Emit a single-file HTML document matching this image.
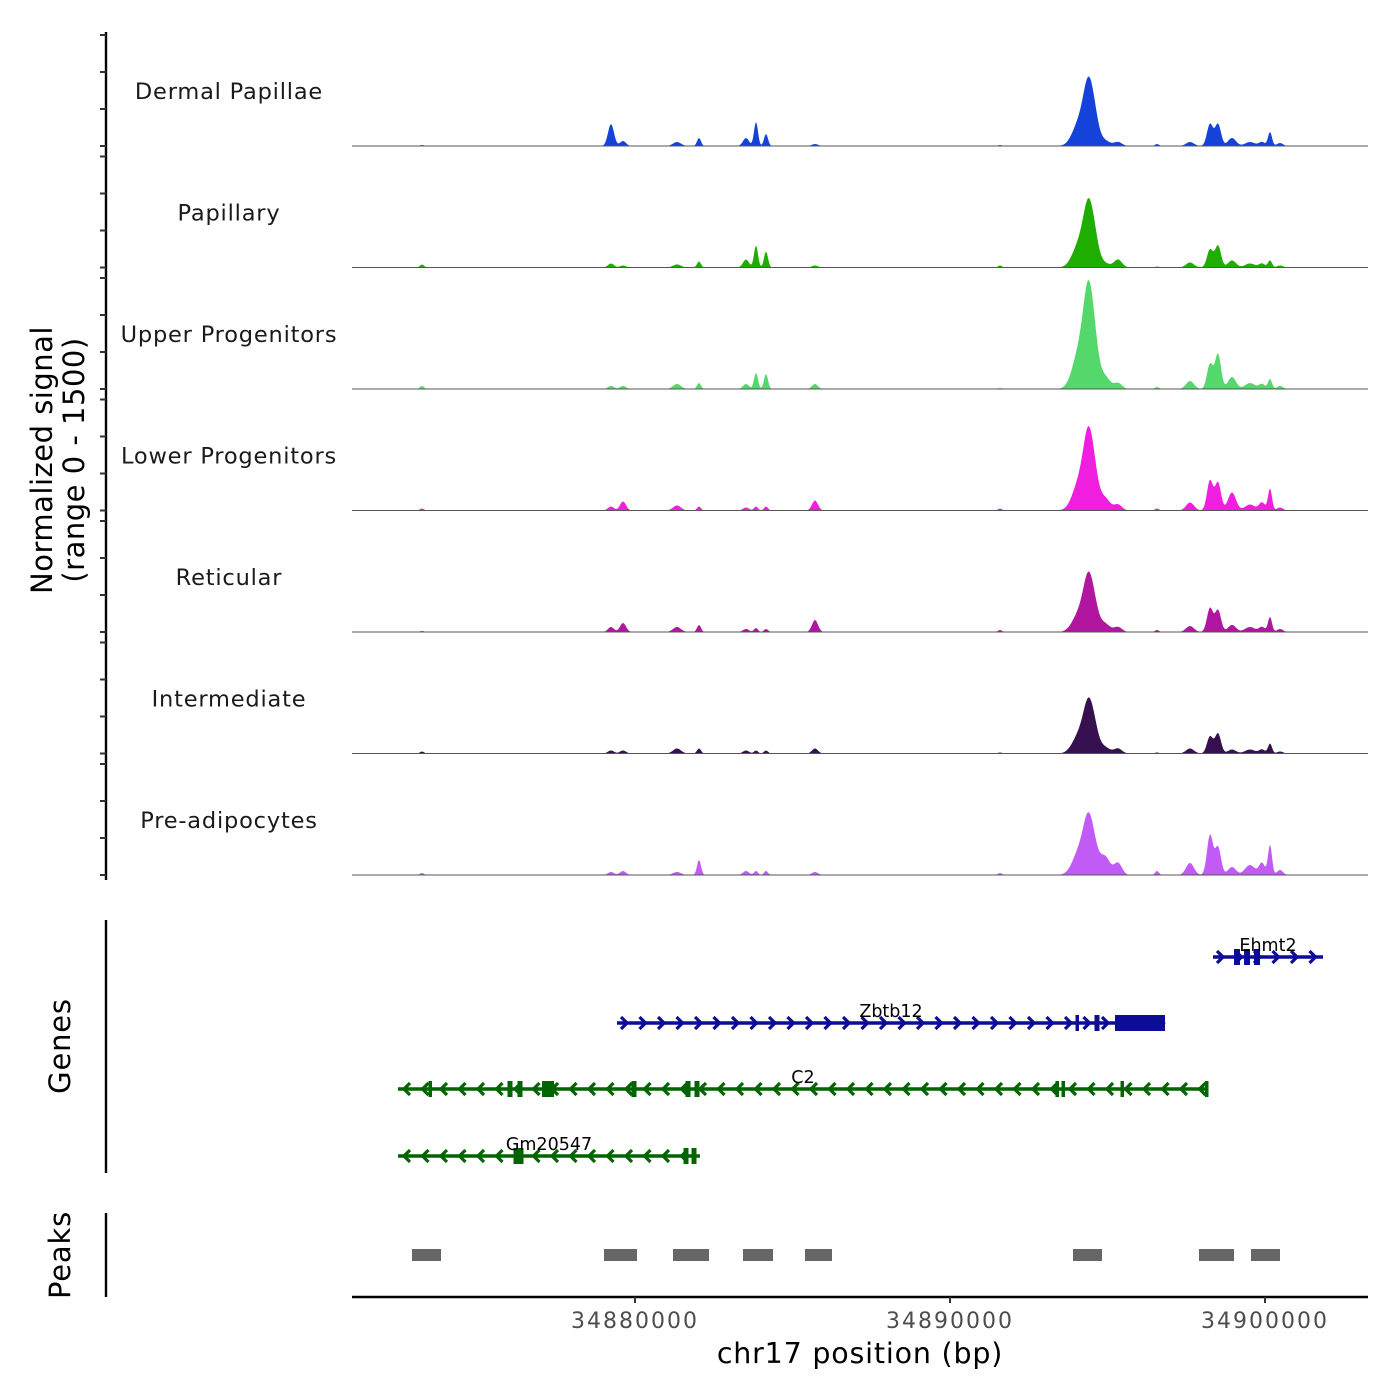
<!DOCTYPE html>
<html><head><meta charset="utf-8"><style>
html,body{margin:0;padding:0;background:#fff}
svg{display:block;font-family:"DejaVu Sans","Liberation Sans",sans-serif}
</style></head><body>
<svg id="chart" width="1400" height="1400" viewBox="0 0 1400 1400"></svg>
<script>
// ---- data ----
const BASE = 34880000;
const trackNames = ["Dermal Papillae","Papillary","Upper Progenitors","Lower Progenitors","Reticular","Intermediate","Pre-adipocytes"];
const trackColors = ["#1542d9","#1fad00","#55d86b","#f01fe0","#b0169f","#37104f","#c25af5"];
const peakOffsets = [-6762,-762,-381,1333,2032,3524,3841,4159,5714,11587,14127,14381,14571,14921,15333,16571,17619,18254,18508,18952,19524,19905,20159,20476];
const peakSigma   = [63,95,95,127,63,95,63,63,95,63,220,150,150,159,127,63,127,95,95,127,159,95,63,95];
const hDermal  = [14,297,68,54,108,108,324,162,27,14,338,600,360,68,54,27,54,297,297,108,54,54,189,41];
const hPapill  = [41,54,27,41,81,108,297,216,27,27,338,600,360,54,108,14,68,243,297,95,54,54,95,27];
const hUpper   = [41,41,41,68,81,68,216,203,68,14,540,950,540,162,81,27,108,338,473,162,81,68,135,41];
const hLower   = [27,54,122,68,54,41,54,54,135,27,405,740,420,162,81,27,108,405,378,243,81,108,297,41];
const hRetic   = [14,68,122,68,95,41,54,41,162,27,270,540,300,108,68,27,81,324,297,95,68,68,203,41];
const hInter   = [27,41,41,68,68,41,41,41,68,14,270,480,300,81,68,14,68,230,270,54,54,54,135,27];
const hPread   = [27,41,54,41,203,54,54,54,41,27,338,540,300,243,162,54,162,540,378,108,135,162,405,68];
const trackHeights = [hDermal,hPapill,hUpper,hLower,hRetic,hInter,hPread];
const yTicks = [0,500,1000,1500];
const xTickValues = [34880000,34890000,34900000];
const xTickLabels = ["34880000","34890000","34900000"];
// genes
const geneNames  = ["Ehmt2","Zbtb12","C2","Gm20547"];
const geneStart  = [18349,-571,-7524,-7524];
const geneEnd    = [21841,16825,18190,2063];
const geneStrand = [1,1,-1,-1];
const geneExons  = [
  [[19016,19206],[19334,19524],[19651,19841]],
  [[13984,14079],[14587,14746],[15238,16825]],
  [[-6556,-6460],[-4048,-3889],[-3730,-3571],[-2952,-2571],[-111,48],[1603,1762],[1889,2048],[13349,13444],[13540,13635],[15413,15508],[18095,18190]],
  [[-3857,-3698],[-3698,-3540],[1540,1698],[1794,1952]]
];
const peakStart = [-7079,-984,1206,3429,5397,13905,17905,19556];
const peakEnd   = [-6159,63,2349,4381,6254,14825,19016,20476];

// ---- scales ----
const X0=352,X1=1368;
const bpPerPx = 10000/315;
const xs = off => 635 + off/bpPerPx;
const xsAbs = bp => xs(bp-BASE);
const firstBase=146, trackStep=121.5, trackH=111;
const svg=document.getElementById('chart');
const NS='http://www.w3.org/2000/svg';
function mk(tag,attrs,parent){const e=document.createElementNS(NS,tag);for(const k in attrs)e.setAttribute(k,attrs[k]);(parent||svg).appendChild(e);return e;}

const ax = mk('line',{x1:106,y1:firstBase-trackH-3,x2:106,y2:firstBase+6*trackStep+5,stroke:'#000','stroke-width':2.4});



trackNames.forEach((name,i)=>{
  const base = firstBase + i*trackStep;
  const ys = v => base - v/1500*trackH;
  const g = mk('g',{});
  
  
  yTicks.forEach(t=>{
    const tk=mk('line',{x1:100,x2:106,y1:ys(t),y2:ys(t),stroke:'#333','stroke-width':2},g);
    
    
  });
  const lbl=mk('text',{x:229,y:base-47,'text-anchor':'middle','font-size':22.5,fill:'#1a1a1a','letter-spacing':0.8},g);
  lbl.textContent=name;
  
  
  const hs=trackHeights[i];
  let d='M'+X0+','+base;
  for(let px=X0;px<=X1;px+=1){
    const off=(px-635)*bpPerPx;
    let v=0;
    for(let k=0;k<peakOffsets.length;k++){const z=(off-peakOffsets[k])/peakSigma[k];if(Math.abs(z)<5)v+=hs[k]*Math.exp(-0.5*z*z);}
    d+=' L'+px+','+ys(Math.min(v,1500)).toFixed(2);
  }
  d+=' L'+X1+','+base+' Z';
  const area=mk('path',{d:d,fill:trackColors[i]},g);
  
  
  const bl=mk('line',{x1:X0,x2:X1,y1:base,y2:base,stroke:'#555','stroke-width':1},g);
  
  
});

const yt=mk('text',{transform:'translate(52,460) rotate(-90)','text-anchor':'middle','font-size':29,fill:'#000','letter-spacing':0.5});


const t1=mk('tspan',{x:0,dy:0},yt);t1.textContent='Normalized signal';
const t2=mk('tspan',{x:0,dy:32},yt);t2.textContent='(range 0 - 1500)';

const ga=mk('line',{x1:106,y1:920,x2:106,y2:1173,stroke:'#000','stroke-width':2.4});


const gt=mk('text',{transform:'translate(70,1046) rotate(-90)','text-anchor':'middle','font-size':29,'letter-spacing':0.8});
gt.textContent='Genes';


const geneY=[957,1023,1089,1156];
geneNames.forEach((n,i)=>{
  const col = geneStrand[i]>0 ? '#0c0c96' : '#006400';
  const y=geneY[i];
  const g=mk('g',{});
  
  
  const a=xs(geneStart[i]), b=xs(geneEnd[i]);
  mk('line',{x1:a,x2:b,y1:y,y2:y,stroke:col,'stroke-width':3.5},g);
  for(let x=a+8;x<b-2;x+=18.5){
    const s=geneStrand[i];
    mk('polyline',{points:`${x-4*s},${y-6} ${x+2*s},${y} ${x-4*s},${y+6}`,fill:'none',stroke:col,'stroke-width':3.2},g);
  }
  geneExons[i].forEach(e=>{
    const ex=mk('rect',{x:xs(e[0]),y:y-8,width:Math.max(3.5,xs(e[1])-xs(e[0])),height:16,fill:col},g);
    
    
  });
  const lab=mk('text',{x:(a+b)/2,y:y-6,'text-anchor':'middle','font-size':17.5,fill:'#000'},g);
  lab.textContent=n;
  
  
});

const pa=mk('line',{x1:106,y1:1213,x2:106,y2:1297,stroke:'#000','stroke-width':2.4});


const pt=mk('text',{transform:'translate(70,1255) rotate(-90)','text-anchor':'middle','font-size':29,'letter-spacing':0.8});
pt.textContent='Peaks';


peakStart.forEach((s,i)=>{
  const r=mk('rect',{x:xs(s),y:1249,width:xs(peakEnd[i])-xs(s),height:12,fill:'#666'});
  
  
});

const xa=mk('line',{x1:X0,x2:X1,y1:1297,y2:1297,stroke:'#000','stroke-width':2.4});


xTickValues.forEach((v,i)=>{
  const x=xsAbs(v);
  const tk=mk('line',{x1:x,x2:x,y1:1297,y2:1303,stroke:'#333','stroke-width':2});
  
  
  const tl=mk('text',{x:x,y:1328,'text-anchor':'middle','font-size':22,fill:'#4d4d4d','letter-spacing':2});
  tl.textContent=xTickLabels[i];
  
  
});
const xt=mk('text',{x:860,y:1363,'text-anchor':'middle','font-size':28.5,fill:'#000','letter-spacing':0.8});
xt.textContent='chr17 position (bp)';


</script>
</body></html>
